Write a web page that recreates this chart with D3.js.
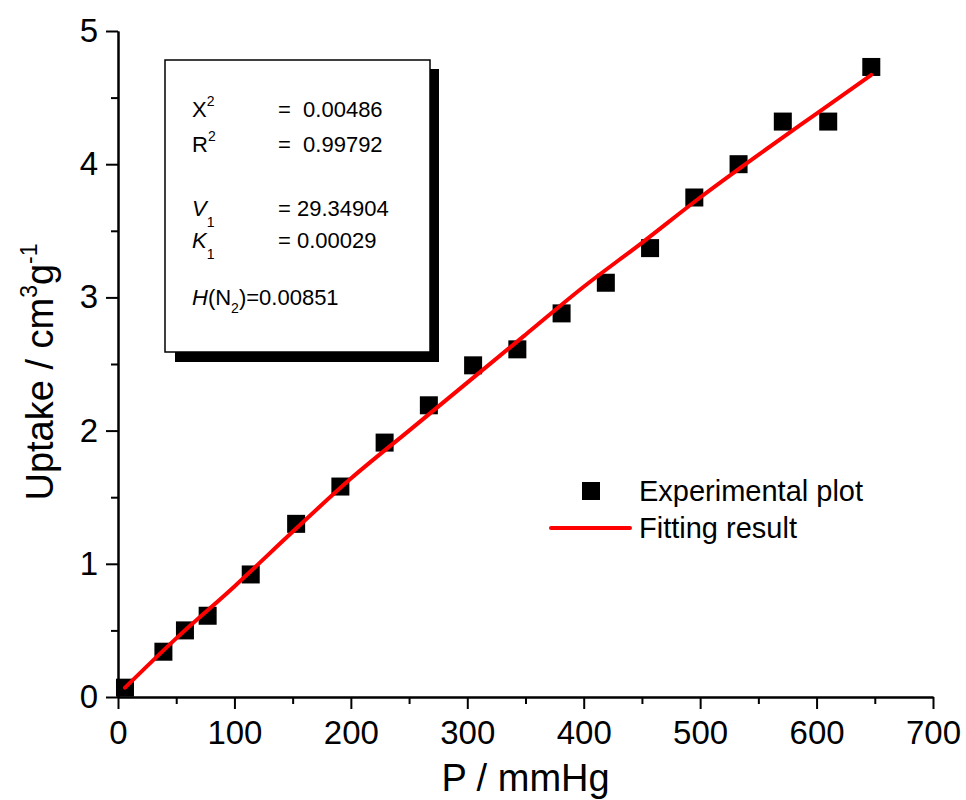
<!DOCTYPE html>
<head>
  <meta charset="utf-8">
  <script src="https://d3js.org/d3.v7.min.js"></script>
  <style>
    body { margin:0; background:#fff; }
    text { font-family: "Liberation Sans", Arial, sans-serif; fill:#000; }
  </style>
</head>
<body>
<script>

var expP      = [6, 39, 57.5, 77, 114, 153, 191, 229, 267, 305, 343, 381, 419, 457, 495, 533, 571, 610, 647];
var expUptake = [0.07, 0.34, 0.50, 0.61, 0.92, 1.30, 1.58, 1.91, 2.19, 2.49, 2.61, 2.88, 3.11, 3.37, 3.75, 4.00, 4.32, 4.32, 4.73];

// red fitted curve
var fitP      = [6, 50, 100, 150, 200, 250, 300, 350, 400, 450, 500, 550, 600, 647];
var fitUptake = [0.07, 0.44, 0.83, 1.24, 1.64, 2.00, 2.36, 2.72, 3.08, 3.41, 3.75, 4.07, 4.38, 4.67];

var xMajor = [0, 100, 200, 300, 400, 500, 600, 700];
var xMinor = [50, 150, 250, 350, 450, 550, 650];
var yMajor = [0, 1, 2, 3, 4, 5];
var yMinor = [0.5, 1.5, 2.5, 3.5, 4.5];

var margin = {top: 31, right: 33, bottom: 103, left: 118};
var width = 966 - margin.left - margin.right,
    height = 800 - margin.top - margin.bottom;

var svg = d3.select("body").append("svg")
    .attr("width", 966)
    .attr("height", 800);

var g = svg.append("g")
    .attr("transform", "translate(" + margin.left + "," + margin.top + ")");

var x = d3.scaleLinear().domain([0, 700]).range([0, width]);
var y = d3.scaleLinear().domain([0, 5]).range([height, 0]);

// minor ticks first, then major with labels
g.append("g")
    .attr("transform", "translate(0," + height + ")")
    .call(d3.axisBottom(x).tickValues(xMinor).tickSize(7).tickSizeOuter(0).tickFormat(""));
g.append("g")
    .attr("transform", "translate(0," + height + ")")
    .attr("class", "axis")
    .call(d3.axisBottom(x).tickValues(xMajor).tickSize(12).tickSizeOuter(0).tickPadding(12).tickFormat(d3.format("d")));

g.append("g")
    .call(d3.axisLeft(y).tickValues(yMinor).tickSize(7).tickSizeOuter(0).tickFormat(""));
g.append("g")
    .attr("class", "axis")
    .call(d3.axisLeft(y).tickValues(yMajor).tickSize(12).tickSizeOuter(0).tickPadding(8).tickFormat(d3.format("d")));

g.selectAll(".domain").attr("stroke-width", 2);
g.selectAll(".tick line").attr("stroke-width", 2);
g.selectAll(".axis .tick text")
    .style("font-size", "33px")
    .attr("font-family", null);

// axis titles
g.append("text")
    .attr("x", width / 2)
    .attr("y", height + 94)
    .attr("text-anchor", "middle")
    .style("font-size", "38px")
    .text("P / mmHg");

var yt = svg.append("text")
    .attr("transform", "translate(53," + (margin.top + height / 2 + 8) + ") rotate(-90)")
    .attr("text-anchor", "middle")
    .style("font-size", "38px");
yt.append("tspan").text("Uptake / cm");
yt.append("tspan").attr("dy", -16).style("font-size", "23px").text("3");
yt.append("tspan").attr("dy", 16).text("g");
yt.append("tspan").attr("dy", -16).style("font-size", "23px").text("-1");

// experimental squares
var pts = expP.map(function(d, i){ return [d, expUptake[i]]; });
g.selectAll(".pt")
    .data(pts)
  .enter().append("rect")
    .attr("class", "pt")
    .attr("x", function(d){ return x(d[0]) - 9; })
    .attr("y", function(d){ return y(d[1]) - 9; })
    .attr("width", 18)
    .attr("height", 18)
    .attr("fill", "#000");

// fit line on top
var line = d3.line()
    .x(function(d){ return x(d[0]); })
    .y(function(d){ return y(d[1]); })
    .curve(d3.curveMonotoneX);
g.append("path")
    .datum(fitP.map(function(d, i){ return [d, fitUptake[i]]; }))
    .attr("fill", "none")
    .attr("stroke", "#ff0000")
    .attr("stroke-width", 4)
    .attr("stroke-linecap", "round")
    .attr("d", line);

// legend
svg.append("rect").attr("x", 582).attr("y", 482).attr("width", 18).attr("height", 18).attr("fill", "#000");
svg.append("text").attr("x", 639).attr("y", 501).style("font-size", "29px").text("Experimental plot");
svg.append("line").attr("x1", 551).attr("x2", 630).attr("y1", 528).attr("y2", 528)
    .attr("stroke", "#ff0000").attr("stroke-width", 4).attr("stroke-linecap", "round");
svg.append("text").attr("x", 639).attr("y", 538).style("font-size", "29px").text("Fitting result");

// inset box with shadow
svg.append("rect").attr("x", 175).attr("y", 69).attr("width", 264).attr("height", 293).attr("fill", "#000");
svg.append("rect").attr("x", 165).attr("y", 60).attr("width", 265).attr("height", 292)
    .attr("fill", "#fff").attr("stroke", "#000").attr("stroke-width", 1.5);

var fs = "22px", sub = "14px";
function row(yy) {
  return svg.append("text").attr("x", 192).attr("y", yy).style("font-size", fs);
}
var t;
t = row(117); t.append("tspan").text("X"); t.append("tspan").attr("dy", -11).style("font-size", sub).text("2");
t = row(152); t.append("tspan").text("R"); t.append("tspan").attr("dy", -11).style("font-size", sub).text("2");
t = row(216); t.append("tspan").style("font-style", "italic").text("V"); t.append("tspan").attr("dy", 11).style("font-size", sub).text("1");
t = row(248); t.append("tspan").style("font-style", "italic").text("K"); t.append("tspan").attr("dy", 11).style("font-size", sub).text("1");
t = row(305);
t.append("tspan").style("font-style", "italic").text("H");
t.append("tspan").text("(N");
t.append("tspan").attr("dy", 8).style("font-size", sub).text("2");
t.append("tspan").attr("dy", -8).text(")=0.00851");

var eqs = [["=  0.00486", 117], ["=  0.99792", 152], ["= 29.34904", 216], ["= 0.00029", 248]];
eqs.forEach(function(e){
  svg.append("text").attr("x", 278).attr("y", e[1]).style("font-size", fs)
     .style("white-space", "pre").text(e[0]);
});

</script>
</body>
